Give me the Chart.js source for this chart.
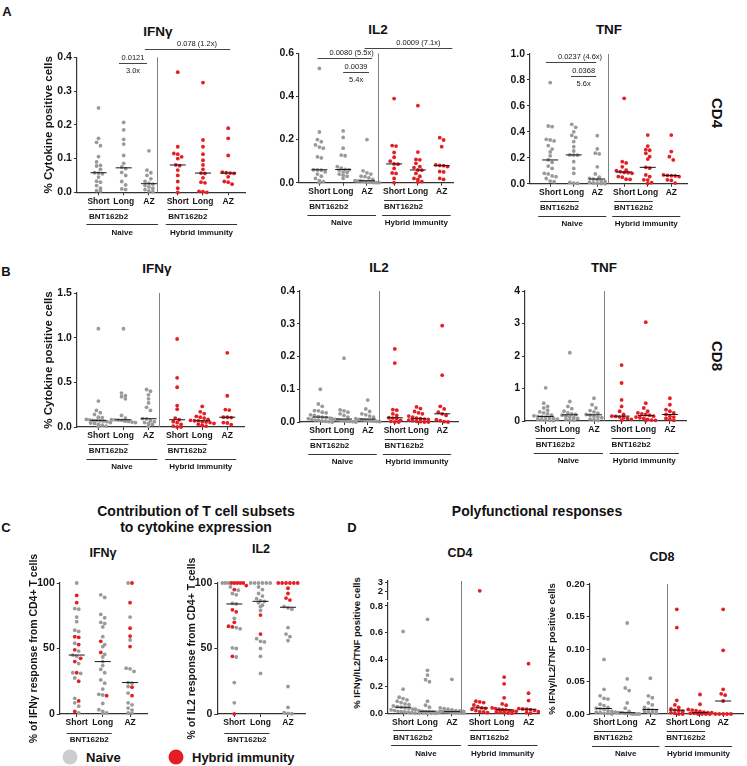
<!DOCTYPE html>
<html>
<head>
<meta charset="utf-8">
<script src="https://cdn.jsdelivr.net/npm/chart.js@4.4.1/dist/chart.umd.min.js"></script>
<style>
  body { margin:0; width:747px; height:766px; position:relative; background:#fff; overflow:hidden;
         font-family:"Liberation Sans", Arial, sans-serif; }
  canvas { position:absolute; }
  .lbl { position:absolute; font-weight:bold; color:#111; white-space:nowrap; transform:translate(-50%,-50%); line-height:1; }
  .lft { position:absolute; font-weight:bold; color:#111; white-space:nowrap; transform:translate(0,-50%); line-height:1; }
  .dot { position:absolute; width:15px; height:15px; border-radius:50%; transform:translate(-50%,-50%); }
</style>
</head>
<body>
<div class="lbl" style="left:7px;top:11px;font-size:13px">A</div>
<div class="lbl" style="left:6px;top:271px;font-size:13px">B</div>
<div class="lbl" style="left:6px;top:527px;font-size:13px">C</div>
<div class="lbl" style="left:352px;top:527px;font-size:13px">D</div>

<div class="lbl" style="left:158px;top:32px;font-size:13.5px">IFNγ</div>
<div class="lbl" style="left:378px;top:30px;font-size:13.5px">IL2</div>
<div class="lbl" style="left:609px;top:30px;font-size:13.5px">TNF</div>
<div class="lbl" style="left:717px;top:113px;font-size:15px;transform:translate(-50%,-50%) rotate(90deg)">CD4</div>

<div class="lbl" style="left:157px;top:269px;font-size:13.5px">IFNγ</div>
<div class="lbl" style="left:379px;top:268px;font-size:13.5px">IL2</div>
<div class="lbl" style="left:604px;top:268px;font-size:13.5px">TNF</div>
<div class="lbl" style="left:717px;top:356px;font-size:15px;transform:translate(-50%,-50%) rotate(90deg)">CD8</div>

<div class="lbl" style="left:196px;top:511px;font-size:14px">Contribution of T cell subsets</div>
<div class="lbl" style="left:196px;top:527px;font-size:14px">to cytokine expression</div>
<div class="lbl" style="left:103px;top:553px;font-size:12.5px">IFNγ</div>
<div class="lbl" style="left:261px;top:549px;font-size:12.5px">IL2</div>

<div class="lbl" style="left:537px;top:511px;font-size:14px">Polyfunctional responses</div>
<div class="lbl" style="left:460px;top:553px;font-size:12.5px">CD4</div>
<div class="lbl" style="left:662px;top:557px;font-size:12.5px">CD8</div>
<div class="lbl" style="left:357px;top:643px;font-size:9.5px;transform:translate(-50%,-50%) rotate(-90deg)">% IFNγ/IL2/TNF positive cells</div>

<div class="dot" style="left:70px;top:757px;background:#cdcdcd"></div>
<div class="lft" style="left:86px;top:757px;font-size:13px">Naive</div>
<div class="dot" style="left:176px;top:757px;background:#e31e24"></div>
<div class="lft" style="left:192px;top:757px;font-size:13px">Hybrid immunity</div>

<script>
// ---- data ----
const colLabels6 = ['Short', 'Long', 'AZ', 'Short', 'Long', 'AZ'];
const colLabels3 = ['Short', 'Long', 'AZ'];

// CD4 (panel A): [Short, Long, AZ]
const cd4IfngNaive = [
  [0.25,0.16,0.148,0.138,0.106,0.09,0.08,0.078,0.068,0.058,0.057,0.055,0.045,0.033,0.03,0.02,0.012,0.005,0.004],
  [0.207,0.185,0.157,0.143,0.109,0.086,0.075,0.07,0.059,0.05,0.032,0.022,0.01,0.008],
  [0.123,0.066,0.058,0.05,0.04,0.032,0.027,0.024,0.02,0.016,0.012,0.008,0.004,0.002]];
const cd4IfngHybrid = [
  [0.356,0.135,0.115,0.113,0.105,0.1,0.081,0.079,0.066,0.05,0.032,0.012,0.0],
  [0.325,0.155,0.135,0.113,0.095,0.081,0.068,0.057,0.056,0.043,0.03,0.028,0.003,0.002,0.0],
  [0.19,0.16,0.109,0.06,0.058,0.057,0.056,0.046,0.032,0.03,0.024]];
const cd4Il2Naive = [
  [0.53,0.235,0.2,0.19,0.175,0.165,0.16,0.12,0.115,0.06,0.059,0.058,0.05,0.04,0.03,0.02,0.01,0.005,0.0],
  [0.24,0.21,0.16,0.128,0.125,0.075,0.068,0.062,0.06,0.058,0.05,0.048,0.04,0.035,0.03,0.02],
  [0.2,0.055,0.046,0.04,0.03,0.028,0.022,0.015,0.01,0.008,0.008,0.006,0.004,0.003,0.002,0.001,0.0,0.0]];
const cd4Il2Hybrid = [
  [0.39,0.172,0.17,0.14,0.118,0.1,0.087,0.086,0.066,0.045,0.043,0.02,0.0],
  [0.357,0.142,0.108,0.106,0.09,0.075,0.07,0.059,0.058,0.043,0.03,0.02,0.015,0.005,0.003],
  [0.209,0.198,0.167,0.083,0.08,0.079,0.075,0.052,0.05,0.02,0.015]];
const cd4TnfNaive = [
  [0.78,0.445,0.44,0.342,0.337,0.33,0.293,0.267,0.245,0.215,0.183,0.165,0.136,0.118,0.08,0.075,0.06,0.054,0.04,0.02,0.015],
  [0.458,0.435,0.4,0.372,0.357,0.325,0.285,0.252,0.222,0.221,0.22,0.17,0.118,0.08,0.01,0.005,0.002],
  [0.37,0.268,0.235,0.23,0.13,0.075,0.05,0.04,0.036,0.03,0.02,0.015,0.01,0.006,0.003,0.001,0.0]];
const cd4TnfHybrid = [
  [0.658,0.17,0.16,0.13,0.105,0.1,0.093,0.087,0.085,0.08,0.055,0.05,0.035,0.033],
  [0.375,0.29,0.262,0.258,0.234,0.208,0.19,0.126,0.12,0.068,0.054,0.03,0.028,0.008,0.002],
  [0.375,0.248,0.208,0.183,0.068,0.064,0.062,0.06,0.055,0.03,0.025,0.005]];

// CD8 (panel B)
const cd8IfngNaive = [
  [1.1,0.29,0.185,0.16,0.14,0.11,0.105,0.085,0.08,0.075,0.074,0.07,0.065,0.06,0.05,0.045,0.04,0.03,0.02,0.01,0.005],
  [1.1,0.38,0.35,0.34,0.315,0.13,0.1,0.081,0.08,0.078,0.075,0.065,0.062,0.055,0.05],
  [0.42,0.4,0.36,0.315,0.27,0.22,0.185,0.093,0.09,0.07,0.06,0.05,0.04,0.03,0.01]];
const cd8IfngHybrid = [
  [0.985,0.55,0.445,0.24,0.2,0.1,0.081,0.06,0.048,0.03,0.01,0.0,0.0],
  [0.23,0.17,0.15,0.12,0.11,0.1,0.085,0.075,0.07,0.068,0.06,0.055,0.05,0.04,0.03,0.02,0.01],
  [0.83,0.35,0.195,0.19,0.11,0.109,0.105,0.05,0.045,0.025]];
const cd8Il2Naive = [
  [0.1,0.055,0.048,0.035,0.034,0.03,0.028,0.022,0.02,0.016,0.015,0.013,0.012,0.01,0.008,0.006,0.005,0.003,0.002,0.001,0.0],
  [0.195,0.037,0.034,0.03,0.025,0.02,0.015,0.01,0.008,0.007,0.005,0.004,0.003,0.002,0.001,0.0],
  [0.067,0.04,0.032,0.025,0.022,0.018,0.015,0.01,0.008,0.007,0.006,0.005,0.004,0.003,0.002,0.001]];
const cd8Il2Hybrid = [
  [0.223,0.18,0.038,0.036,0.025,0.02,0.013,0.012,0.01,0.005,0.002,0.0,0.0],
  [0.046,0.041,0.032,0.028,0.025,0.018,0.015,0.012,0.01,0.009,0.008,0.006,0.004,0.002,0.001,0.0,0.0],
  [0.294,0.143,0.048,0.04,0.03,0.025,0.02,0.007,0.004,0.001,0.0]];
const cd8TnfNaive = [
  [1.02,0.55,0.45,0.4,0.33,0.28,0.25,0.22,0.18,0.16,0.14,0.13,0.12,0.1,0.08,0.06,0.05,0.04,0.03,0.02,0.01],
  [2.1,0.6,0.45,0.38,0.3,0.25,0.22,0.2,0.18,0.15,0.12,0.1,0.08,0.05,0.03,0.02],
  [0.7,0.5,0.4,0.32,0.28,0.24,0.2,0.18,0.15,0.12,0.1,0.06,0.04,0.02]];
const cd8TnfHybrid = [
  [1.72,1.17,0.65,0.45,0.3,0.2,0.15,0.14,0.12,0.1,0.08,0.05,0.02],
  [3.04,0.55,0.4,0.3,0.25,0.22,0.2,0.18,0.15,0.12,0.1,0.08,0.05,0.03,0.02,0.01],
  [0.7,0.5,0.35,0.3,0.25,0.2,0.15,0.12,0.08,0.05,0.02]];

// Panel C: % of cytokine response from CD4+ T cells
const contribIfngNaive = [
  [100,80.5,80,74,70.5,64,63,54,48,45,44,38.5,31.5,31,27.5,12,8.5,6,0.8],
  [91,89,76,73.5,70,69,66.5,59,53,51.5,45.5,43.5,40,37,34,31.5,26,23.5,19,15,14.5,8,3.3,2,0.8,0.5],
  [100,74,56.5,35,34.5,32.5,24,23.5,21,16,8.5,7,4.5,3,0.8,0.5]];
const contribIfngHybrid = [
  [90.5,85,59,58.5,53,49,42.5,40,31.5,25,10,2],
  [55.5,47,14],
  [100,85,65.5,59.5,51.5,20.5,14]];
const contribIl2Naive = [
  [100,100,100,97,94.5,92,91,84.5,84,73,66,65,50.5,50,43.5,24,8.5],
  [100,100,100,100,100,100,97,95,92,90,88,86.5,86,85,83,82,79,57.5,55.5,55,50,44,31],
  [82,81,80,66,61,59,56,21,5,1,0.5,0.2]];
const contribIl2Hybrid = [
  [100,100,100,100,100,98,95,79.5,78,70,67,66.5,44,0],
  [75.5,61],
  [100,100,100,100,100,100,96,92,88.5,87]];

// Panel D: IFNγ/IL2/TNF triple positive
const polyCd4Naive = [
  [0.61,0.18,0.12,0.11,0.1,0.09,0.08,0.07,0.065,0.055,0.05,0.045,0.04,0.037,0.03,0.025,0.02,0.015,0.012,0.01,0.008,0.005,0.003],
  [0.7,0.32,0.285,0.25,0.235,0.09,0.06,0.045,0.03,0.02,0.015,0.013,0.012,0.01,0.008,0.006,0.004,0.003,0.002,0.001,0.0],
  [0.253,0.04,0.035,0.03,0.025,0.02,0.018,0.015,0.013,0.012,0.011,0.01,0.008,0.006,0.005,0.004,0.003,0.001]];
const polyCd4Hybrid = [
  [2.1,0.09,0.085,0.08,0.062,0.05,0.04,0.037,0.03,0.02,0.012,0.01,0.005],
  [0.27,0.22,0.115,0.07,0.06,0.04,0.035,0.03,0.028,0.025,0.02,0.018,0.015,0.01,0.008,0.005,0.002,0.001],
  [0.37,0.15,0.095,0.035,0.032,0.03,0.028,0.02,0.012,0.005,0.002]];
const polyCd8Naive = [
  [0.084,0.038,0.028,0.024,0.023,0.015,0.013,0.01,0.009,0.008,0.007,0.005,0.004,0.003,0.002,0.001,0.001,0.0],
  [0.14,0.054,0.04,0.036,0.017,0.009,0.004,0.003,0.002,0.002,0.002,0.001,0.001,0.001,0.0,0.0,0.0,0.0],
  [0.055,0.028,0.025,0.017,0.014,0.01,0.007,0.006,0.005,0.004,0.003,0.002,0.001]];
const polyCd8Hybrid = [
  [0.161,0.133,0.021,0.014,0.01,0.008,0.006,0.005,0.004,0.002,0.001,0.0,0.0],
  [0.03,0.015,0.007,0.006,0.005,0.004,0.003,0.002,0.002,0.001,0.001,0.0,0.0,0.0,0.0],
  [0.161,0.098,0.038,0.031,0.029,0.02,0.0,0.0,0.0,0.0,0.0]];

// y tick labels
const ticksCd4Ifng = [0, 0.1, 0.2, 0.3, 0.4];
const ticksCd4Il2 = [0, 0.2, 0.4, 0.6];
const ticksCd4Tnf = [0, 0.2, 0.4, 0.6, 0.8, 1.0];
const ticksCd8Ifng = [0, 0.5, 1.0, 1.5];
const ticksCd8Il2 = [0, 0.1, 0.2, 0.3, 0.4];
const ticksCd8Tnf = [0, 1, 2, 3, 4];
const ticksContrib = [0, 50, 100];
const ticksPolyCd4Low = [0, 0.2, 0.4, 0.6, 0.8];
const ticksPolyCd4High = [2, 3];
const ticksPolyCd8 = [0, 0.05, 0.1, 0.15, 0.2];

// significance brackets on panel A (x in column units, y in data units)
const bracketsCd4Ifng = [
  {x1: 1.75, x2: 2.92, y: 0.382, above: '0.0121', below: '3.0x'},
  {x1: 2.83, x2: 6.38, y: 0.424, tx: 5.0, above: '0.078 (1.2x)'}];
const bracketsCd4Il2 = [
  {x1: 0.82, x2: 3.23, y: 0.577, tx: 2.32, above: '0.0080 (5.5x)'},
  {x1: 1.95, x2: 3.09, y: 0.513, above: '0.0039', below: '5.4x'},
  {x1: 2.9, x2: 6.77, y: 0.626, tx: 5.27, above: '0.0009 (7.1x)'}];
const bracketsCd4Tnf = [
  {x1: 0.71, x2: 2.95, y: 0.94, tx: 2.23, above: '0.0237 (4.6x)'},
  {x1: 1.83, x2: 2.95, y: 0.83, above: '0.0368', below: '5.6x'}];

// ---- drawing ----
Chart.defaults.font.family = '"Liberation Sans", Arial, sans-serif';
const GRAY = '#9a9a9a', RED = '#e31e24', INK = '#151515';
const xPos6 = [0.9, 1.95, 3.0, 4.2, 5.25, 6.3];
const xPos3 = [0.65, 1.65, 2.7];

const under6 = [
  {from: 0, to: 1, dy: 17, text: 'BNT162b2', tdy: 24, l: 10, r: 5},
  {from: 3, to: 4, dy: 17, text: 'BNT162b2', tdy: 24, l: 10, r: 5},
  {from: 0, to: 2, dy: 32, text: 'Naive', tdy: 40, l: 12, r: 9},
  {from: 3, to: 5, dy: 32, text: 'Hybrid immunity', tdy: 40, l: 12, r: 9}];
const under3 = [{from: 0, to: 1, dy: 19, text: 'BNT162b2', tdy: 26, l: 10, r: 9}];

function median(a) {
  const s = a.slice().sort((p, q) => p - q), n = s.length;
  return n % 2 ? s[(n - 1) / 2] : (s[n / 2 - 1] + s[n / 2]) / 2;
}

// spread points sharing a value band side by side (deterministic beeswarm)
function swarm(items, cx, pxY, pxX) {
  const s = items.slice().sort((a, b) => b.v - a.v);
  const rows = [];
  s.forEach(it => {
    const r = rows[rows.length - 1];
    if (r && (r[0].v - it.v) * pxY < 3.4) r.push(it); else rows.push([it]);
  });
  const out = [];
  rows.forEach(r => {
    const n = r.length, gap = n > 1 ? Math.min(3.9, 24 / (n - 1)) : 0;
    r.forEach((it, k) => out.push({x: cx + (k - (n - 1) / 2) * gap / pxX, v: it.v, c: it.c}));
  });
  return out;
}

function makeDecor(o) {
  return {
    id: 'decor',
    afterDraw(chart) {
      const ctx = chart.ctx, xs = chart.scales.x, ys = chart.scales.y, ca = chart.chartArea;
      const X = v => xs.getPixelForValue(v);
      ctx.save();
      ctx.lineWidth = 1;
      if (o.divider != null) {
        const dx = Math.round(X(o.divider)) + 0.5;
        ctx.strokeStyle = '#808080';
        ctx.beginPath(); ctx.moveTo(dx, ca.top); ctx.lineTo(dx, o.dividerDown ? chart.height : ca.bottom); ctx.stroke();
      }
      ctx.fillStyle = INK; ctx.textAlign = 'center'; ctx.textBaseline = 'middle';
      (o.brackets || []).forEach(b => {
        const y = Math.round(ys.getPixelForValue(b.y)) + 0.5;
        ctx.strokeStyle = '#444';
        ctx.beginPath(); ctx.moveTo(X(b.x1), y); ctx.lineTo(X(b.x2), y); ctx.stroke();
        ctx.font = '7.5px "Liberation Sans", Arial, sans-serif';
        const cx = b.tx != null ? X(b.tx) : (X(b.x1) + X(b.x2)) / 2;
        ctx.fillText(b.above, cx, y - 5.5);
        if (b.below) ctx.fillText(b.below, cx, y + 7);
      });
      if (o.under) {
        ctx.font = 'bold 8px "Liberation Sans", Arial, sans-serif';
        ctx.strokeStyle = '#333';
        o.under.forEach(u => {
          const a = X(o.xPos[u.from]) - u.l, c = X(o.xPos[u.to]) + u.r;
          const y = Math.round(ca.bottom + u.dy) + 0.5;
          ctx.beginPath(); ctx.moveTo(a, y); ctx.lineTo(c, y); ctx.stroke();
          ctx.fillText(u.text, (a + c) / 2, ca.bottom + u.tdy);
        });
      }
      ctx.restore();
    }
  };
}

function stripChart(o) {
  const cl = o.cl != null ? o.cl : (o.yTitle ? o.titleX - o.titleSize * 0.6 : o.x0 - 38);
  const cv = document.createElement('canvas');
  const cw = Math.round(o.right - cl), ch = Math.round(o.bottom - o.ct);
  cv.width = cw; cv.height = ch;
  cv.style.left = cl + 'px'; cv.style.top = o.ct + 'px';
  cv.style.width = cw + 'px'; cv.style.height = ch + 'px';
  document.body.appendChild(cv);
  const pxY = (o.y1 - o.y0) / (o.yMax - o.yMin);
  const pxX = (o.x1 - o.x0) / (o.xMax - o.xMin);
  const pts = [], colors = [], datasets = [];
  o.columns.forEach((col, i) => {
    const shown = col.filter(p => p.v >= o.yMin && p.v <= o.yMax);
    swarm(shown, o.xPos[i], pxY, pxX).forEach(p => { pts.push({x: p.x, y: p.v}); colors.push(p.c); });
    if (o.showMedian !== false) {
      const m = median(col.map(p => p.v)), hw = 8 / pxX;
      datasets.push({type: 'line', data: [{x: o.xPos[i] - hw, y: m}, {x: o.xPos[i] + hw, y: m}],
        borderColor: INK, borderWidth: 1, pointRadius: 0, order: 0, clip: false});
    }
  });
  datasets.push({type: 'scatter', data: pts, pointBackgroundColor: colors, pointBorderWidth: 0,
    pointRadius: 1.9, order: 1, clip: false});
  const hideX = o.showX === false;
  new Chart(cv, {
    data: {datasets},
    options: {
      responsive: false, animation: false, events: [],
      layout: {padding: {top: o.y0 - o.ct, right: o.right - o.x1, bottom: hideX ? o.bottom - o.y1 : 0, left: 0}},
      plugins: {legend: {display: false}, tooltip: {enabled: false}},
      scales: {
        x: {type: 'linear', display: !hideX, min: o.xMin, max: o.xMax,
          afterBuildTicks: s => { s.ticks = o.xPos.map(v => ({value: v})); },
          afterFit: s => { s.height = hideX ? 0 : o.bottom - o.y1; },
          ticks: {callback: (v, i) => o.xLabels[i], autoSkip: false, maxRotation: 0, padding: 1,
            color: INK, font: {size: 8.5, weight: 'bold'}},
          grid: {drawOnChartArea: false, drawTicks: true, tickLength: 3, color: '#333'},
          border: {color: '#333', width: 1.2}},
        y: {type: 'linear', min: o.yMin, max: o.yMax,
          afterBuildTicks: s => { s.ticks = o.yTicks.map(v => ({value: v})); },
          afterFit: s => { s.width = o.x0 - cl; },
          ticks: {callback: v => v.toFixed(o.dec), autoSkip: false, padding: 2, color: INK,
            font: {size: o.tickSize || 10.5, weight: 'bold'}},
          grid: {drawOnChartArea: false, drawTicks: true, tickLength: 3, color: '#333'},
          border: {color: '#333', width: 1.2},
          title: {display: !!o.yTitle, text: o.yTitle || '', color: INK, padding: 0,
            font: {size: o.titleSize || 11, weight: 'bold'}}}
      }
    },
    plugins: [makeDecor(o)]
  });
}

function sixCols(naive, hybrid) {
  return naive.map(c => c.map(v => ({v, c: GRAY}))).concat(hybrid.map(c => c.map(v => ({v, c: RED}))));
}
function mixedCols(naive, hybrid) {
  return naive.map((c, i) => c.map(v => ({v, c: GRAY})).concat(hybrid[i].map(v => ({v, c: RED}))));
}

const six = {xPos: xPos6, xLabels: colLabels6, under: under6, xMin: 0, xMax: 7};
const three = {xPos: xPos3, xLabels: colLabels3, under: under3, xMin: 0, xMax: 3.35, dec: 0, yMin: 0, yMax: 100,
  yTicks: ticksContrib, titleSize: 10.5, ct: 550, y0: 583, y1: 714, bottom: 750};

// Panel A
stripChart(Object.assign({}, six, {columns: sixCols(cd4IfngNaive, cd4IfngHybrid), yMin: 0, yMax: 0.4, yTicks: ticksCd4Ifng, dec: 1,
  yTitle: '% Cytokine positive cells', titleX: 49, titleSize: 11.5,
  x0: 77, y0: 57.3, x1: 245, y1: 192.3, ct: 20, bottom: 240, right: 252, divider: 3.33, brackets: bracketsCd4Ifng}));
stripChart(Object.assign({}, six, {columns: sixCols(cd4Il2Naive, cd4Il2Hybrid), yMin: 0, yMax: 0.6, yTicks: ticksCd4Il2, dec: 1,
  xMax: 6.8, x0: 299, y0: 53.3, x1: 453, y1: 182.7, ct: 20, bottom: 231, right: 470, divider: 3.5, brackets: bracketsCd4Il2}));
stripChart(Object.assign({}, six, {columns: sixCols(cd4TnfNaive, cd4TnfHybrid), yMin: 0, yMax: 1.0, yTicks: ticksCd4Tnf, dec: 1,
  x0: 530, y0: 54, x1: 687, y1: 183.7, ct: 20, bottom: 232, right: 700, divider: 3.48, brackets: bracketsCd4Tnf}));

// Panel B
stripChart(Object.assign({}, six, {columns: sixCols(cd8IfngNaive, cd8IfngHybrid), yMin: 0, yMax: 1.5, yTicks: ticksCd8Ifng, dec: 1,
  yTitle: '% Cytokine positive cells', titleX: 49, titleSize: 11.5,
  x0: 77, y0: 293, x1: 244, y1: 427, ct: 282, bottom: 475, right: 252, divider: 3.43}));
stripChart(Object.assign({}, six, {columns: sixCols(cd8Il2Naive, cd8Il2Hybrid), yMin: 0, yMax: 0.4, yTicks: ticksCd8Il2, dec: 1,
  x0: 300, y0: 291, x1: 458, y1: 422, ct: 282, bottom: 470, right: 470, divider: 3.5}));
stripChart(Object.assign({}, six, {columns: sixCols(cd8TnfNaive, cd8TnfHybrid), yMin: 0, yMax: 4, yTicks: ticksCd8Tnf, dec: 0,
  x0: 525, y0: 291, x1: 686, y1: 421, ct: 282, bottom: 470, right: 700, divider: 3.43}));

// Panel C
stripChart(Object.assign({}, three, {columns: mixedCols(contribIfngNaive, contribIfngHybrid),
  yTitle: '% of IFNγ response from CD4+ T cells', titleX: 34.5, x0: 60, x1: 147, right: 160}));
stripChart(Object.assign({}, three, {columns: mixedCols(contribIl2Naive, contribIl2Hybrid),
  yTitle: '% of IL2 response from CD4+ T cells', titleX: 192, x0: 217, x1: 305, right: 318}));

// Panel D (CD4 with broken axis: upper and lower segment)
stripChart(Object.assign({}, six, {columns: sixCols(polyCd4Naive, polyCd4Hybrid), yMin: 1.25, yMax: 3.13, yTicks: ticksPolyCd4High, dec: 0,
  tickSize: 9.5, showX: false, showMedian: false, under: null, xMin: 0.25, xMax: 6.75,
  cl: 350, x0: 388, y0: 581, x1: 539, y1: 599, ct: 566, bottom: 610, right: 548, divider: 3.4, dividerDown: true}));
stripChart(Object.assign({}, six, {columns: sixCols(polyCd4Naive, polyCd4Hybrid), yMin: 0, yMax: 0.822, yTicks: ticksPolyCd4Low, dec: 1,
  tickSize: 9.5, xMin: 0.25, xMax: 6.75,
  cl: 350, x0: 388, y0: 603, x1: 539, y1: 713.3, ct: 594, bottom: 762, right: 548, divider: 3.4}));
stripChart(Object.assign({}, six, {columns: sixCols(polyCd8Naive, polyCd8Hybrid), yMin: 0, yMax: 0.2, yTicks: ticksPolyCd8, dec: 2,
  tickSize: 9.5, yTitle: '% IFNγ/IL2/TNF positive cells', titleX: 553, titleSize: 9.5, xMin: 0.25, xMax: 7.2,
  x0: 590, y0: 584, x1: 743, y1: 714, ct: 570, bottom: 762, right: 747, divider: 3.75}));
</script>
</body>
</html>
